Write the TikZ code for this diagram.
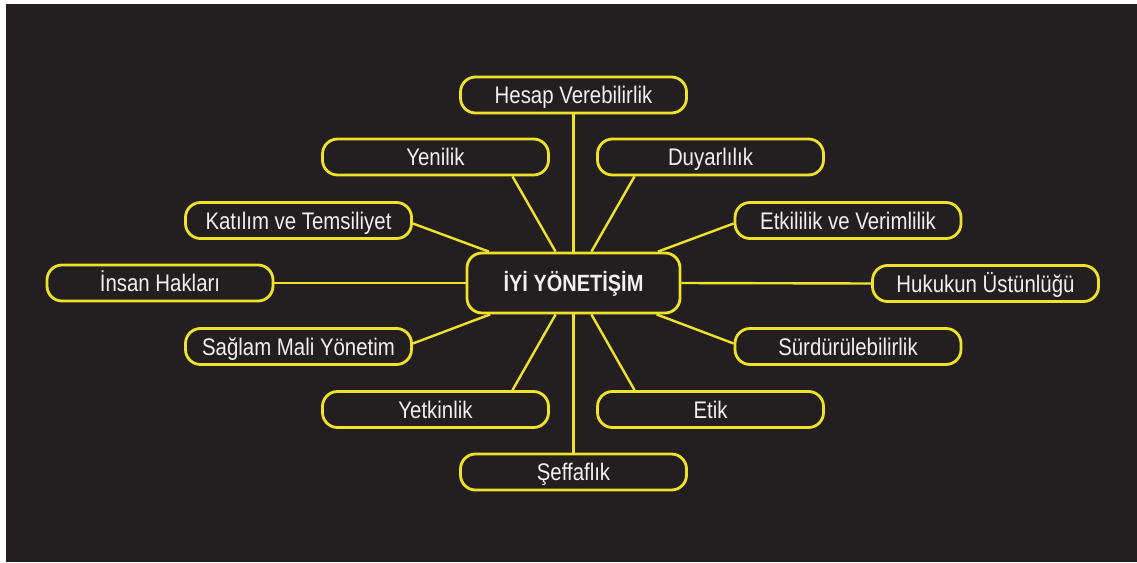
\documentclass[tikz,border=0pt]{standalone}
\usepackage{fontspec}
\setmainfont{Liberation Sans}[FakeStretch=0.85]
\usetikzlibrary{calc}
\definecolor{bgdark}{RGB}{35,31,32}
\definecolor{ylw}{RGB}{240,226,40}
\definecolor{txt}{RGB}{240,240,240}
\tikzset{
  leaf/.style={draw=ylw, line width=2.8pt, rounded corners=15pt, fill=bgdark,
    minimum width=226pt, minimum height=36pt, inner sep=0pt, text=txt,
    text height=17.4pt, text depth=0pt,
    font=\fontsize{24}{28}\selectfont},
  hub/.style={draw=ylw, line width=2.8pt, rounded corners=15pt, fill=bgdark,
    minimum width=213pt, minimum height=60pt, inner sep=0pt, text=txt,
    text height=17pt, text depth=0pt,
    font=\fontsize{23.5}{28}\selectfont\bfseries},
  link/.style={draw=ylw, line width=2.4pt}
}
\begin{document}
\begin{tikzpicture}[x=1pt,y=-1pt]
\useasboundingbox (0,0) rectangle (1137,562);
\fill[bgdark] (6,4) rectangle (1137,562);
% nodes
\node[hub] (c) at (573.5,283) {İYİ YÖNETİŞİM};
\node[leaf] (hes) at (573.5,95) {Hesap Verebilirlik};
\node[leaf] (yen) at (435.5,157) {Yenilik};
\node[leaf] (duy) at (710.5,157) {Duyarlılık};
\node[leaf] (kat) at (298.5,220.5) {Katılım ve Temsiliyet};
\node[leaf] (etk) at (848,220.5) {Etkililik ve Verimlilik};
\node[leaf] (ins) at (160,283) {İnsan Hakları};
\node[leaf] (huk) at (985.5,283.5) {Hukukun Üstünlüğü};
\node[leaf] (sag) at (298.5,346.5) {Sağlam Mali Yönetim};
\node[leaf] (sur) at (848,346.5) {Sürdürülebilirlik};
\node[leaf] (yet) at (435.5,409.5) {Yetkinlik};
\node[leaf] (eti) at (710.5,409.5) {Etik};
\node[leaf] (sef) at (573.5,472) {Şeffaflık};
% connectors
\path[link] (c.north) -- (hes.south);
\path[link] (c.south) -- (sef.north);
\path[link] (c.west) -- (ins.east);
\path[link] (c.east) -- (huk.west);
\path[link] (c) -- ($(yen.south)+(77,0)$);
\path[link] (c) -- ($(duy.south)+(-76,0)$);
\path[link] (c) -- ($(yet.north)+(77,0)$);
\path[link] (c) -- ($(eti.north)+(-76,0)$);
\path[link] (c) -- ($(kat.east)+(0,3)$);
\path[link] (c) -- ($(etk.west)+(0,3)$);
\path[link] (c) -- ($(sag.east)+(0,-3)$);
\path[link] (c) -- ($(sur.west)+(0,-3)$);
\end{tikzpicture}
\end{document}
